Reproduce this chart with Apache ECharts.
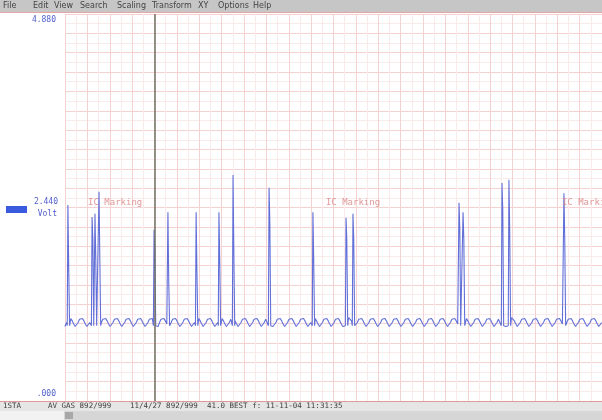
<!DOCTYPE html>
<html>
<head>
<meta charset="utf-8">
<script src="https://cdn.jsdelivr.net/npm/echarts@6/dist/echarts.min.js"></script>
<style>
  html, body { margin: 0; padding: 0; background: #ffffff; }
  #chart { width: 602px; height: 420px; }
</style>
</head>
<body>
<div id="chart"></div>
<script>
// Channel 1 trace: time in grid divisions, amplitude in volts
const spikeTimes     = [0.13, 1.21, 1.34, 1.52, 3.98, 4.60, 5.86, 6.88, 7.51, 9.12, 11.08, 12.56, 12.87, 17.61, 17.79, 19.53, 19.84, 22.30];
const spikePeaks     = [2.47, 2.32, 2.36, 2.64, 2.16, 2.38, 2.38, 2.38, 2.85, 2.69, 2.38, 2.31, 2.36, 2.50, 2.38, 2.75, 2.79, 2.62];
const spikeShoulders = [1.71, 2.03, 1.78, 1.82, 1.90, 1.53, 1.65, 1.78, 1.90, 2.24, 1.78, 2.03, 2.03, 2.16, 2.03, 2.41, 2.16, 2.03];
const spikeFoot = 0.95;

// one period of the baseline ripple, evenly sampled
const rippleCycle  = [0.94, 0.99, 1.03, 1.05, 1.04, 1.01, 0.97, 0.94];
const ripplePeriod = 0.52;

// event annotations and the time cursor
const eventTimes = [1.03, 11.66, 22.21];
const eventLevel = 2.50;
const eventLabel = 'IC Marking';
const cursorTime = 4.02;

// amplitude scale labels
const yTickValues = [4.88, 2.44, 0];
const yTickLabels = ['4.880', '2.440', '.000'];
const yUnit = 'Volt';

// window chrome texts
const menuItems    = ['File', 'Edit', 'View', 'Search', 'Scaling', 'Transform', 'XY', 'Options', 'Help'];
const statusFields = ['1STA', 'AV GAS 892/999', '11/4/27 892/999', '41.0 BEST f: 11-11-04 11:31:35'];

// ---- layout ----
const menuX   = [3, 33, 54, 80, 117, 152, 198, 218, 253];
const statusX = [3, 48, 130, 207];
const X_MAX = 24;

// ---- build the trace: ripple baseline with the spikes laid over it ----
const step = ripplePeriod / rippleCycle.length;
const points = [];
for (let k = 0; k * step <= X_MAX; k++) {
  const t = k * step;
  const inSpike = spikeTimes.some(s => t > s - 0.045 && t < s + 0.095);
  if (!inSpike) points.push([+t.toFixed(4), rippleCycle[k % rippleCycle.length]]);
}
spikeTimes.forEach((s, j) => {
  points.push([s - 0.03, spikeFoot], [s, spikePeaks[j]], [s + 0.035, spikeShoulders[j]], [s + 0.075, spikeFoot]);
});
points.sort((a, b) => a[0] - b[0]);

const chart = echarts.init(document.getElementById('chart'), null, { renderer: 'canvas' });

const gridLine  = { show: true, lineStyle: { color: '#f5d2d2', width: 1 } };
const minorLine = { show: true, lineStyle: { color: '#fbeaea', width: 1 } };

chart.setOption({
  animation: false,
  backgroundColor: '#ffffff',
  grid: { left: 65, right: 0, top: 14, bottom: 19 },
  xAxis: {
    type: 'value', min: 0, max: X_MAX, interval: 1,
    axisLine: { show: false }, axisTick: { show: false }, axisLabel: { show: false },
    splitLine: gridLine,
    minorTick: { show: false, splitNumber: 2 },
    minorSplitLine: minorLine
  },
  yAxis: {
    type: 'value', min: 0, max: 4.88, interval: 0.244,
    axisLine: { show: false }, axisTick: { show: false }, axisLabel: { show: false },
    splitLine: gridLine,
    minorTick: { show: false, splitNumber: 2 },
    minorSplitLine: minorLine
  },
  series: [
    {
      type: 'line',
      data: points,
      showSymbol: false,
      symbol: 'none',
      lineStyle: { color: '#6270d8', width: 1.1 },
      markLine: {
        silent: true,
        symbol: 'none',
        label: { show: false },
        lineStyle: { color: '#707064', width: 1.5, type: 'solid' },
        data: [{ xAxis: cursorTime }]
      },
      z: 3
    },
    {
      type: 'scatter',
      data: eventTimes.map(t => [t, eventLevel]),
      symbolSize: 0,
      label: {
        show: true, position: 'right', distance: 0,
        formatter: eventLabel,
        color: '#d98080', fontSize: 9, fontFamily: 'DejaVu Sans Mono'
      },
      z: 4
    }
  ]
});

// ---- scale labels and window chrome ----
const W = 602;
const yPx = yTickValues.map(v => chart.convertToPixel({ yAxisIndex: 0 }, v));
const labelStyle = { fill: '#5060cc', fontSize: 8, fontFamily: 'DejaVu Sans Mono', align: 'right' };

const g = [];
// menu bar
g.push({ type: 'rect', shape: { x: 0, y: 0, width: W, height: 12 }, style: { fill: '#c6c6c6' }, z: 10 });
menuItems.forEach((m, i) => g.push({
  type: 'text', x: menuX[i], y: 6, z: 11,
  style: { text: m, fill: '#444444', fontSize: 8, fontFamily: 'DejaVu Sans', verticalAlign: 'middle' }
}));
g.push({ type: 'line', shape: { x1: 0, y1: 12.5, x2: W, y2: 12.5 }, style: { stroke: '#e6a6a6', lineWidth: 1 }, z: 10 });

// amplitude labels
g.push({ type: 'text', x: 56, y: yPx[0] + 2, z: 11, style: Object.assign({ text: yTickLabels[0], verticalAlign: 'top' }, labelStyle) });
g.push({ type: 'text', x: 58, y: yPx[1] - 2, z: 11, style: Object.assign({ text: yTickLabels[1], verticalAlign: 'bottom' }, labelStyle) });
g.push({ type: 'text', x: 57, y: yPx[1] + 2, z: 11, style: Object.assign({ text: yUnit, verticalAlign: 'top' }, labelStyle) });
g.push({ type: 'text', x: 56, y: yPx[2] - 3, z: 11, style: Object.assign({ text: yTickLabels[2], verticalAlign: 'bottom' }, labelStyle) });
g.push({ type: 'rect', shape: { x: 6, y: yPx[1] - 1.5, width: 21, height: 7 }, style: { fill: '#3a5ae0' }, z: 11 });

// status bar and scroll bar
g.push({ type: 'line', shape: { x1: 0, y1: 401.5, x2: W, y2: 401.5 }, style: { stroke: '#e09a9a', lineWidth: 1 }, z: 10 });
g.push({ type: 'rect', shape: { x: 0, y: 402, width: W, height: 9 }, style: { fill: '#e6e6e6' }, z: 10 });
statusFields.forEach((s, i) => g.push({
  type: 'text', x: statusX[i], y: 406.5, z: 11,
  style: { text: s, fill: '#404040', fontSize: 7.5, fontFamily: 'DejaVu Sans Mono', verticalAlign: 'middle' }
}));
g.push({ type: 'rect', shape: { x: 0, y: 411, width: W, height: 9 }, style: { fill: '#d6d6d6' }, z: 10 });
g.push({ type: 'rect', shape: { x: 0, y: 411, width: 64, height: 9 }, style: { fill: '#f2f2f2' }, z: 10 });
g.push({ type: 'rect', shape: { x: 65, y: 412, width: 8, height: 7 }, style: { fill: '#a8a8a8' }, z: 11 });

chart.setOption({ graphic: g });
</script>
</body>
</html>
